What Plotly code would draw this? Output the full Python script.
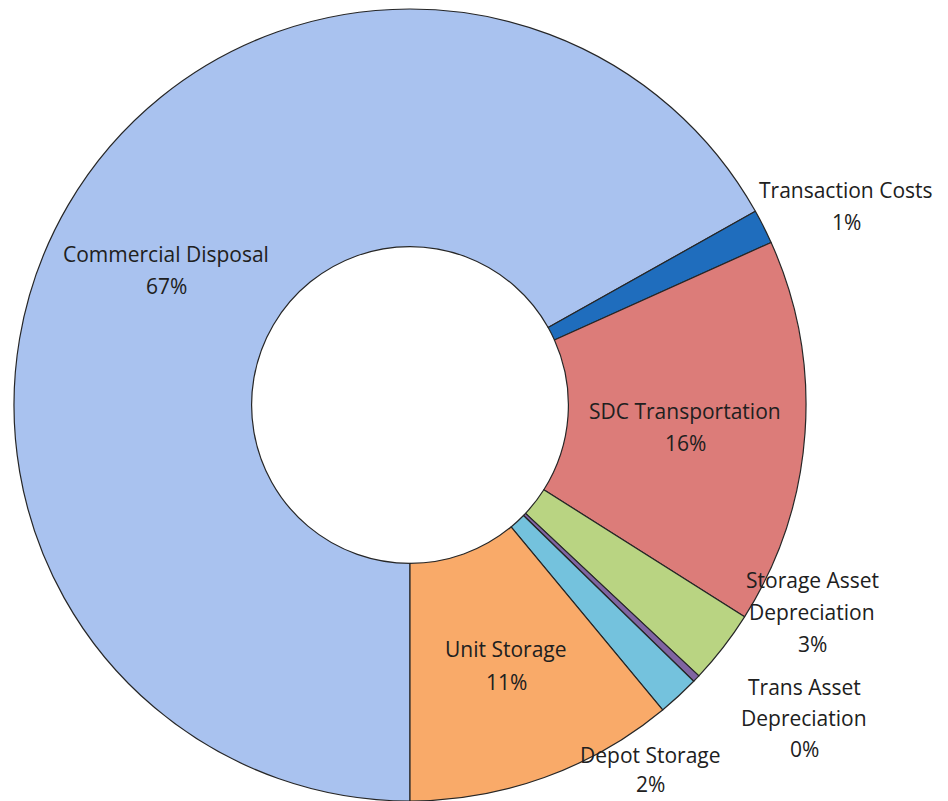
import plotly.graph_objects as go

# Cost shares (clockwise from 6 o'clock)
categories = ["Commercial Disposal", "Transaction Costs", "SDC Transportation",
              "Storage Asset Depreciation", "Trans Asset Depreciation",
              "Depot Storage", "Unit Storage"]
shares = [66.8, 1.4, 15.7, 3.0, 0.3, 1.7, 11.0]
colors = ["#a9c2ef", "#1f6dbd", "#dc7c79", "#b9d482", "#8064a2", "#74c2dd", "#f9aa69"]

# label text lines for each slice
label_lines = {
    "Commercial Disposal": ["Commercial Disposal"],
    "Transaction Costs": ["Transaction Costs"],
    "SDC Transportation": ["SDC Transportation"],
    "Storage Asset Depreciation": ["Storage Asset", "Depreciation"],
    "Trans Asset Depreciation": ["Trans Asset", "Depreciation"],
    "Depot Storage": ["Depot Storage"],
    "Unit Storage": ["Unit Storage"],
}
# label block placement: centre x, first-line y, line gap (screen pixels)
label_pos = {
    "Commercial Disposal": (166, 253, 32),
    "Transaction Costs": (846, 189, 32),
    "SDC Transportation": (685, 410, 32),
    "Storage Asset Depreciation": (812, 579, 32),
    "Trans Asset Depreciation": (804, 686, 31),
    "Depot Storage": (650, 754, 29),
    "Unit Storage": (506, 648, 33),
}

W, H = 948, 801
OFF = 8  # page body margin


def paper_x(px):
    return (px - OFF) / W


def paper_y(py):
    return 1 - (py - OFF) / H


fig = go.Figure(go.Pie(
    labels=categories,
    values=shares,
    sort=False,
    direction="clockwise",
    rotation=180,
    hole=0.40,
    textinfo="none",
    marker=dict(colors=colors, line=dict(color="#262626", width=1.2)),
    domain=dict(x=[paper_x(14), paper_x(806)], y=[paper_y(801), paper_y(9)]),
    showlegend=False,
))

total = sum(shares)
for name, val in zip(categories, shares):
    pct = f"{round(val / total * 100)}%"
    lines = label_lines[name] + [pct]
    cx, cy, gap = label_pos[name]
    for i, line in enumerate(lines):
        fig.add_annotation(
            x=paper_x(cx), y=paper_y(cy + i * gap + 1),
            xref="paper", yref="paper",
            xanchor="center", yanchor="middle",
            text=line, showarrow=False,
            font=dict(family="Open Sans, sans-serif", size=21, color="#202020"),
        )

fig.update_layout(
    width=W, height=H,
    margin=dict(l=0, r=0, t=0, b=0),
    paper_bgcolor="white",
    plot_bgcolor="white",
)

fig.write_html("out.html")
